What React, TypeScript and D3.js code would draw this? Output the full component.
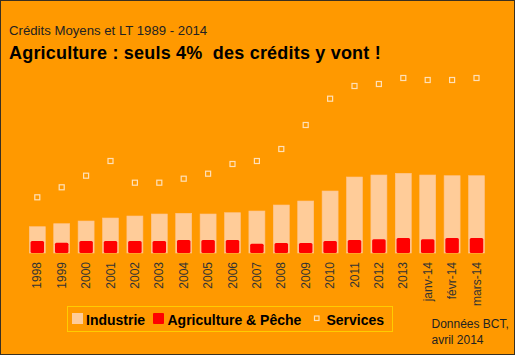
import React from "react";
import * as d3 from "d3";

const categories = ["1998","1999","2000","2001","2002","2003","2004","2005","2006","2007","2008","2009","2010","2011","2012","2013","janv-14","févr-14","mars-14"];
const industrie = [2630,2930,3200,3500,3700,3900,3970,3900,4030,4200,4800,5200,6200,7600,7800,7970,7800,7730,7730];
const agriculture = [1200,1030,1200,1200,1200,1200,1300,1300,1300,930,1000,1000,1200,1300,1370,1500,1370,1500,1500];
const services = [5570,6570,7730,9200,7030,7030,7430,7930,8900,9200,10400,12800,15430,16700,16900,17500,17300,17300,17500];

const W = 515, H = 355;
const BG = "#FF9900";
const PEACH = "#FFCC99";
const RED = "#FF0000";

export default function App() {
  const x = d3.scaleBand<string>().domain(categories).range([25.1, 488.7]).paddingInner(0).paddingOuter(0);
  const y = d3.scaleLinear().domain([0, 20000]).range([253, 53]);
  const step = x.step();
  const wInd = 16, wAg = 13.5;
  const cx = (c: string) => (x(c) as number) + step / 2;

  return (
    <div style={{ position: "fixed", left: 0, top: 0 }}>
      <svg width={W} height={H} style={{ display: "block" }} fontFamily="Arial, 'Liberation Sans', sans-serif">
        <rect x={0.5} y={0.5} width={W - 1} height={H - 1} fill={BG} stroke="#3a3020" strokeWidth={1} />
        <text x={9} y={35} fontSize={13.2} fill="#222">Crédits Moyens et LT 1989 - 2014</text>
        <text x={9} y={59} fontSize={18} fontWeight="bold" fill="#000" letterSpacing={0.2} xmlSpace="preserve">Agriculture : seuls 4%  des crédits y vont !</text>

        {categories.map((c, i) => (
          <rect key={"i" + c} x={cx(c) - wInd / 2} y={y(industrie[i])} width={wInd} height={y(0) - y(industrie[i])} fill={PEACH} stroke="#FFC48A" strokeWidth={0.6} />
        ))}
        {categories.map((c, i) => (
          <rect key={"a" + c} x={cx(c) - wAg / 2} y={y(agriculture[i])} width={wAg} height={y(0) - y(agriculture[i])} fill={RED} rx={1.5} />
        ))}
        {categories.map((c, i) => (
          <rect key={"s" + c} x={cx(c) - 2.5} y={y(services[i]) - 2.5} width={5} height={5} fill="none" stroke="#FFE0B8" strokeWidth={1.2} />
        ))}
        {categories.map((c) => (
          <text key={"t" + c} transform={`translate(${cx(c) + 4},262) rotate(-90)`} textAnchor="end" fontSize={12} fill="#333">{c}</text>
        ))}

        <rect x={67.5} y={306.5} width={325} height={25} fill="none" stroke="#FFCC00" strokeWidth={1} />
        <rect x={72} y={313} width={11} height={11} fill={PEACH} />
        <text x={86} y={325} fontSize={14} fontWeight="bold" fill="#000">Industrie</text>
        <rect x={153} y={313} width={11} height={11} fill={RED} rx={1} />
        <text x={167.5} y={325} fontSize={14} fontWeight="bold" fill="#000">Agriculture &amp; Pêche</text>
        <rect x={314.5} y={316} width={4.5} height={4.5} fill="none" stroke="#FFE0B8" strokeWidth={1.2} />
        <text x={326.5} y={325} fontSize={14} fontWeight="bold" fill="#000">Services</text>

        <text x={431.5} y={328} fontSize={12} fill="#222">Données BCT,</text>
        <text x={431.5} y={344} fontSize={12} fill="#222">avril 2014</text>
      </svg>
    </div>
  );
}
